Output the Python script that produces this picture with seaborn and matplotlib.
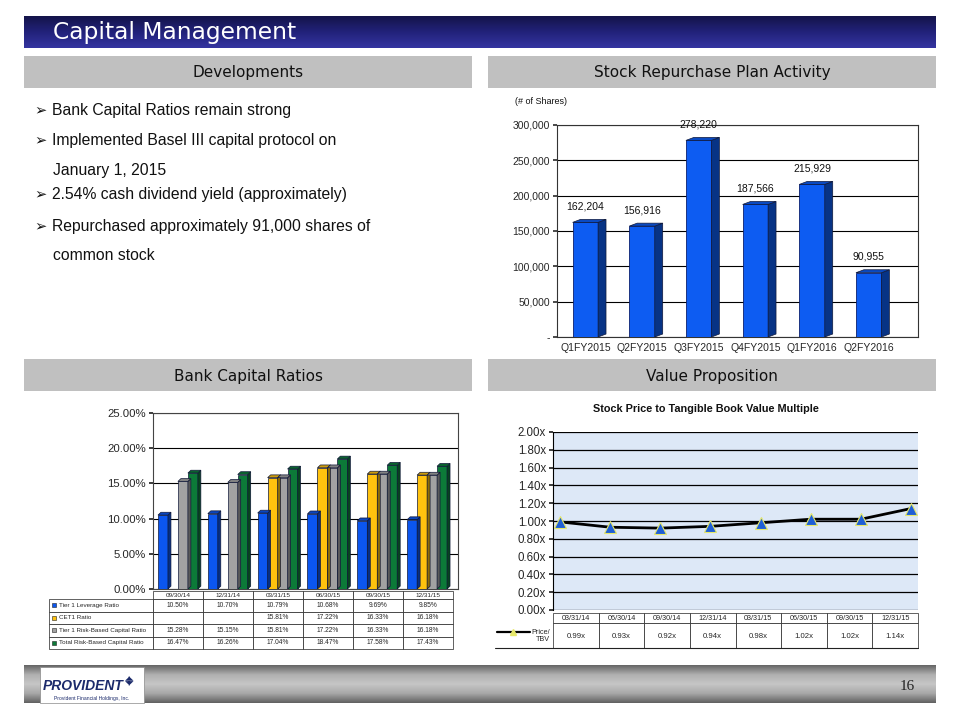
import numpy as np
import pandas as pd
import matplotlib
matplotlib.use("Agg")
import matplotlib.pyplot as plt
from matplotlib.patches import Rectangle, Polygon
from matplotlib.colors import LinearSegmentedColormap, to_rgb
from matplotlib.ticker import FuncFormatter, MultipleLocator
import seaborn as sns

# ---------------- data ----------------
repurchase_quarters = ["Q1FY2015", "Q2FY2015", "Q3FY2015", "Q4FY2015", "Q1FY2016", "Q2FY2016"]
repurchase_shares = [162204, 156916, 278220, 187566, 215929, 90955]

ratio_dates = ["09/30/14", "12/31/14", "03/31/15", "06/30/15", "09/30/15", "12/31/15"]
ratio_series = ["Tier 1 Leverage Ratio", "CET1 Ratio",
                "Tier 1 Risk-Based Capital Ratio", "Total Risk-Based Capital Ratio"]
tier1_leverage = [10.50, 10.70, 10.79, 10.68, 9.69, 9.85]
cet1_ratio = [np.nan, np.nan, 15.81, 17.22, 16.33, 16.18]
tier1_risk_based = [15.28, 15.15, 15.81, 17.22, 16.33, 16.18]
total_risk_based = [16.47, 16.26, 17.04, 18.47, 17.58, 17.43]

tbv_dates = ["03/31/14", "06/30/14", "09/30/14", "12/31/14",
             "03/31/15", "06/30/15", "09/30/15", "12/31/15"]
price_to_tbv = [0.99, 0.93, 0.92, 0.94, 0.98, 1.02, 1.02, 1.14]

bullet_lines = [
    ("Bank Capital Ratios remain strong", True),
    ("Implemented Basel III capital protocol on", True),
    ("January 1, 2015", False),
    ("2.54% cash dividend yield (approximately)", True),
    ("Repurchased approximately 91,000 shares of", True),
    ("common stock", False),
]

# ---------------- style ----------------
sns.set_theme(style="white")
plt.rcParams["font.family"] = ["Liberation Sans", "DejaVu Sans"]

W, H = 960, 720
fig = plt.figure(figsize=(9.6, 7.2), dpi=100)
fig.patch.set_facecolor("white")


def px_axes(x0, y0, x1, y1, **kw):
    return fig.add_axes([x0 / W, 1 - y1 / H, (x1 - x0) / W, (y1 - y0) / H], **kw)


def extrude(ax, dx, dy, edge="#101838"):
    for p in list(ax.patches):
        if not isinstance(p, Rectangle):
            continue
        x, y, w, h = p.get_x(), p.get_y(), p.get_width(), p.get_height()
        if not np.isfinite(h) or h == 0:
            continue
        fc = np.array(to_rgb(p.get_facecolor()))
        side = tuple(fc * 0.55)
        topc = tuple(fc * 0.8)
        t = y + h
        ax.add_patch(Polygon([(x + w, y), (x + w + dx, y + dy), (x + w + dx, t + dy), (x + w, t)],
                             closed=True, fc=side, ec=edge, lw=0.5, zorder=p.get_zorder()))
        ax.add_patch(Polygon([(x, t), (x + dx, t + dy), (x + w + dx, t + dy), (x + w, t)],
                             closed=True, fc=topc, ec=edge, lw=0.5, zorder=p.get_zorder()))


# ---------------- background / slide furniture ----------------
bg = px_axes(0, 0, W, H)
bg.set_zorder(0)
bg.axis("off")

title_cmap = LinearSegmentedColormap.from_list("t", ["#14144a", "#22227a", "#3434a0"])
bg.imshow(np.linspace(0, 1, 64)[:, None], cmap=title_cmap, aspect="auto",
          extent=[24, 936, 48, 16], origin="upper", zorder=1)
foot_cmap = LinearSegmentedColormap.from_list("f", ["#666666", "#b0b0b0", "#c6c6c6", "#a8a8a8", "#626262"])
bg.imshow(np.linspace(0, 1, 64)[:, None], cmap=foot_cmap, aspect="auto",
          extent=[24, 936, 703, 665], origin="upper", zorder=1)
bg.set_xlim(0, W)
bg.set_ylim(H, 0)

bg.text(53, 33, "Capital Management", color="white", fontsize=16.8,
        family=["DejaVu Sans"], va="center", ha="left", zorder=3)

for (x0, x1, y0, y1, label) in [(24, 472, 56, 88, "Developments"),
                                (488, 936, 56, 88, "Stock Repurchase Plan Activity"),
                                (24, 472, 359, 391, "Bank Capital Ratios"),
                                (488, 936, 359, 391, "Value Proposition")]:
    bg.add_patch(Rectangle((x0, y0), x1 - x0, y1 - y0, fc="#c0c0c0", ec="none", zorder=1))
    bg.text((x0 + x1) / 2, (y0 + y1) / 2 + 1, label, fontsize=11, family=["DejaVu Sans"],
            ha="center", va="center", color="#111111", zorder=3)

# bullets
bullet_y = [110, 140, 170, 194, 226, 255]
for (txt, has_bullet), yy in zip(bullet_lines, bullet_y):
    if has_bullet:
        bg.text(34, yy, "\u27a2", fontsize=10.5, family=["DejaVu Sans"], ha="left", va="center",
                color="#111111", zorder=3)
        bg.text(52, yy, txt, fontsize=11.3, family=["Liberation Sans", "DejaVu Sans"],
                ha="left", va="center", color="#111111", zorder=3)
    else:
        bg.text(53, yy, txt, fontsize=11.3, family=["Liberation Sans", "DejaVu Sans"],
                ha="left", va="center", color="#111111", zorder=3)

# footer logo and page number
bg.add_patch(Rectangle((40, 667), 104, 36, fc="white", ec="#888888", lw=0.5, zorder=2))
bg.text(43, 686, "PROVIDENT", fontsize=10, fontweight="bold", style="italic",
        color="#1b2a6b", ha="left", va="center", zorder=3)
bg.text(92, 698.5, "Provident Financial Holdings, Inc.", fontsize=3.6,
        color="#1b2a6b", ha="center", va="center", zorder=3)
bg.text(125, 681, "\u25e2\u25e3\n\u25e5\u25e4", fontsize=4.5, family=["DejaVu Sans"],
        color="#1b2a6b", ha="left", va="center", linespacing=0.9, zorder=3)
bg.text(907, 686, "16", fontsize=11, family=["Liberation Serif", "DejaVu Serif"],
        color="#222222", ha="center", va="center", zorder=3)

bg.text(515, 102, "(# of Shares)", fontsize=6.5, ha="left", va="center", color="#111111")

# ---------------- Stock repurchase chart ----------------
ax1 = px_axes(557, 125, 918, 337)
sns.barplot(x=repurchase_quarters, y=repurchase_shares, color="#0d5cf2", saturation=1,
            width=0.45, edgecolor="#0a1f6e", linewidth=0.6, ax=ax1, zorder=3)
extrude(ax1, 0.14, 4200)
ax1.set_xlim(-0.5, 5.5 + 0.37)
ax1.set_ylim(0, 300000)
ax1.yaxis.set_major_locator(MultipleLocator(50000))
ax1.yaxis.set_major_formatter(FuncFormatter(lambda v, p: "-" if v == 0 else f"{int(v):,}"))
ax1.set_axisbelow(True)
ax1.yaxis.grid(True, color="black", lw=0.8)
for s in ax1.spines.values():
    s.set_color("#333333")
    s.set_linewidth(0.8)
ax1.tick_params(axis="y", labelsize=7.5, length=3, color="#333333", left=True, pad=2)
ax1.tick_params(axis="x", labelsize=7.5, length=0, pad=4)
ax1.set_xlabel("")
ax1.set_ylabel("")
ax1.bar_label(ax1.containers[0], labels=[f"{v:,}" for v in repurchase_shares],
              padding=8, fontsize=7.5, color="#111111")

# ---------------- Bank capital ratios chart ----------------
ratio_df = pd.DataFrame({
    "date": ratio_dates * 4,
    "series": np.repeat(ratio_series, len(ratio_dates)),
    "value": tier1_leverage + cet1_ratio + tier1_risk_based + total_risk_based,
})
ratio_colors = ["#0b56f0", "#ffc20e", "#a2a2a2", "#0c7a38"]
ax2 = px_axes(153, 413, 458, 589)
sns.barplot(data=ratio_df, x="date", y="value", hue="series", order=ratio_dates,
            hue_order=ratio_series, palette=ratio_colors, saturation=1, width=0.8,
            edgecolor="#101838", linewidth=0.5, errorbar=None, legend=False, ax=ax2, zorder=3)
extrude(ax2, 0.06, 0.4)
ax2.set_xlim(-0.5, 5.5 + 0.12)
ax2.set_ylim(0, 25)
ax2.yaxis.set_major_locator(MultipleLocator(5))
ax2.yaxis.set_major_formatter(FuncFormatter(lambda v, p: f"{v:.2f}%"))
ax2.set_axisbelow(True)
ax2.yaxis.grid(True, color="black", lw=0.8)
for s in ax2.spines.values():
    s.set_color("#444444")
    s.set_linewidth(0.8)
ax2.tick_params(axis="y", labelsize=8.2, length=3, left=True, pad=2)
ax2.set_xticks([])
ax2.set_xlabel("")
ax2.set_ylabel("")

# ratio table
col_edges = [153 + 50 * i for i in range(7)]
for i, d in enumerate(ratio_dates):
    bg.add_patch(Rectangle((col_edges[i], 591), 50, 8, fc="white", ec="#222222", lw=0.5, zorder=2))
    bg.text(col_edges[i] + 25, 595.5, d, fontsize=4.6, ha="center", va="center", zorder=3)
row_edges = [599, 611.5, 624, 636.5, 649]
series_values = [tier1_leverage, cet1_ratio, tier1_risk_based, total_risk_based]
for r, (name, vals, col) in enumerate(zip(ratio_series, series_values, ratio_colors)):
    y0, y1 = row_edges[r], row_edges[r + 1]
    ym = (y0 + y1) / 2
    bg.add_patch(Rectangle((49, y0), 104, y1 - y0, fc="white", ec="#222222", lw=0.5, zorder=2))
    bg.add_patch(Rectangle((52, ym - 2.2), 4.4, 4.4, fc=col, ec="#222222", lw=0.4, zorder=3))
    bg.text(59, ym, name, fontsize=4.5, ha="left", va="center", zorder=3)
    for i, v in enumerate(vals):
        bg.add_patch(Rectangle((col_edges[i], y0), 50, y1 - y0, fc="white", ec="#222222", lw=0.5, zorder=2))
        if np.isfinite(v):
            bg.text(col_edges[i] + 25, ym, f"{v:.2f}%", fontsize=4.8, ha="center", va="center", zorder=3)

# ---------------- Value proposition chart ----------------
bg.text(706, 409, "Stock Price to Tangible Book Value Multiple", fontsize=7.8,
        fontweight="bold", ha="center", va="center", color="#111111")
ax3 = px_axes(553, 432, 918, 610)
ax3.set_facecolor("#dde8f7")
sns.lineplot(x=tbv_dates, y=price_to_tbv, sort=False, color="black", lw=2,
             marker="^", markersize=8, markerfacecolor="#1f5fd6",
             markeredgecolor="#e6e86a", markeredgewidth=0.8, ax=ax3, zorder=4)
ax3.set_xlim(-0.14, 7.14)
ax3.set_ylim(0, 2.0)
ax3.yaxis.set_major_locator(MultipleLocator(0.2))
ax3.yaxis.set_major_formatter(FuncFormatter(lambda v, p: f"{v:.2f}x"))
ax3.set_axisbelow(True)
ax3.yaxis.grid(True, color="black", lw=0.9)
for k, s in ax3.spines.items():
    s.set_visible(k == "left")
ax3.spines["left"].set_color("black")
ax3.spines["left"].set_linewidth(0.8)
ax3.tick_params(axis="y", labelsize=8.3, length=3, left=True, pad=2)
ax3.set_xticks([])
ax3.set_xlabel("")
ax3.set_ylabel("")

# value table
vcol = [553 + (918 - 553) / 8 * i for i in range(9)]
for i, d in enumerate(tbv_dates):
    cw = vcol[i + 1] - vcol[i]
    bg.add_patch(Rectangle((vcol[i], 613), cw, 10, fc="white", ec="#222222", lw=0.5, zorder=2))
    bg.text(vcol[i] + cw / 2, 618, d, fontsize=5.2, ha="center", va="center", zorder=3)
    bg.add_patch(Rectangle((vcol[i], 623), cw, 25, fc="white", ec="#222222", lw=0.5, zorder=2))
    bg.text(vcol[i] + cw / 2, 636, f"{price_to_tbv[i]:.2f}x", fontsize=5.6,
            ha="center", va="center", zorder=3)
bg.plot([495, 918], [648, 648], color="#222222", lw=0.8, zorder=3)
bg.plot([497, 530], [632, 632], color="black", lw=1.6, zorder=3)
bg.plot([513], [632], marker="^", ms=4, mfc="#e6e86a", mec="#e6e86a", zorder=4)
bg.text(550, 636, "Price/\nTBV", fontsize=5.2, ha="right", va="center",
        linespacing=1.1, zorder=3)

bg.set_xlim(0, W)
bg.set_ylim(H, 0)

fig.savefig("out.png", dpi=100, facecolor="white")
